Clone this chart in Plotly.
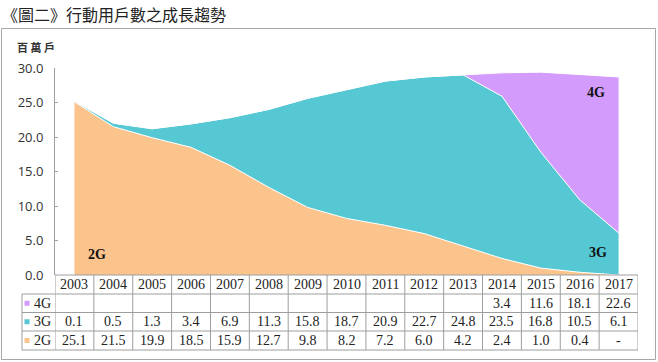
import plotly.graph_objects as go

years = [2003, 2004, 2005, 2006, 2007, 2008, 2009, 2010, 2011, 2012, 2013, 2014, 2015, 2016, 2017]
g4 = [None, None, None, None, None, None, None, None, None, None, None, 3.4, 11.6, 18.1, 22.6]
g3 = [0.1, 0.5, 1.3, 3.4, 6.9, 11.3, 15.8, 18.7, 20.9, 22.7, 24.8, 23.5, 16.8, 10.5, 6.1]
g2 = [25.1, 21.5, 19.9, 18.5, 15.9, 12.7, 9.8, 8.2, 7.2, 6.0, 4.2, 2.4, 1.0, 0.4, None]
series_names = ["4G", "3G", "2G"]
colors = {"2G": "#FBC48D", "3G": "#55C8D3", "4G": "#D29BFC"}
yticks = [0, 5, 10, 15, 20, 25, 30]

W, H = 658, 362
L, R, T, B = 55, 638, 68, 275  # plot area in px
pw, ph = R - L, B - T

def px_x(px):
    return (px - L) / pw

def px_y(py):
    return (B - py) / ph

fig = go.Figure()
for name, vals in [("2G", g2), ("3G", g3), ("4G", g4)]:
    fig.add_trace(go.Scatter(
        x=years, y=[v if v is not None else 0 for v in vals],
        stackgroup="one", mode="lines", name=name,
        line=dict(color="white", width=1),
        fillcolor=colors[name], hoverinfo="skip", showlegend=False))

ann = []
shapes = []
line_col = "#9E9E9E"

# outer border
shapes.append(dict(type="rect", xref="paper", yref="paper",
                   x0=px_x(1.5), x1=px_x(655.5), y0=px_y(28.5), y1=px_y(359.5),
                   line=dict(color="#A6A6A6", width=1), layer="below"))

# table geometry (px)
row_edges = [275, 294, 312.5, 331, 350]
lab_left = 22
shapes.append(dict(type="line", xref="paper", yref="paper",
                   x0=0, x1=1, y0=px_y(row_edges[0]), y1=px_y(row_edges[0]),
                   line=dict(color=line_col, width=1)))
for ry in row_edges[1:]:
    shapes.append(dict(type="line", xref="paper", yref="paper",
                       x0=px_x(lab_left), x1=1, y0=px_y(ry), y1=px_y(ry),
                       line=dict(color=line_col, width=1)))
shapes.append(dict(type="line", xref="paper", yref="paper",
                   x0=px_x(lab_left), x1=px_x(lab_left), y0=px_y(row_edges[1]), y1=px_y(row_edges[-1]),
                   line=dict(color=line_col, width=1)))
for k in range(len(years) + 1):
    xv = years[0] - 0.5 + k
    shapes.append(dict(type="line", xref="x", yref="paper",
                       x0=xv, x1=xv, y0=px_y(row_edges[0]), y1=px_y(row_edges[-1]),
                       line=dict(color=line_col, width=1)))

serif = "Liberation Serif, Times New Roman, serif"
tfont = dict(family=serif, size=14, color="#222")
centers = [(row_edges[i] + row_edges[i + 1]) / 2 for i in range(4)]
for yr in years:
    ann.append(dict(x=yr, y=px_y(centers[0]), xref="x", yref="paper", text=str(yr),
                    xanchor="center", yanchor="middle", showarrow=False, font=tfont))
rows = {"4G": g4, "3G": g3, "2G": g2}
for i, name in enumerate(series_names):
    cy = centers[i + 1]
    shapes.append(dict(type="rect", xref="paper", yref="paper",
                       x0=px_x(24.5), x1=px_x(29.5), y0=px_y(cy + 2.5), y1=px_y(cy - 2.5),
                       fillcolor=colors[name], line=dict(width=0)))
    ann.append(dict(x=px_x(32), y=px_y(cy), xref="paper", yref="paper", text=name,
                    xanchor="left", yanchor="middle", showarrow=False, font=tfont))
    for yr, v in zip(years, rows[name]):
        if v is None:
            txt = "-" if name == "2G" else ""
        else:
            txt = f"{v:.1f}"
        if txt:
            ann.append(dict(x=yr, y=px_y(cy), xref="x", yref="paper", text=txt,
                            xanchor="center", yanchor="middle", showarrow=False, font=tfont))

# area labels
for txt, x, y in [("2G", 2003.58, 3.0), ("3G", 2016.47, 3.3), ("4G", 2016.42, 26.4)]:
    ann.append(dict(x=x, y=y, xref="x", yref="y", text=f"<b>{txt}</b>", showarrow=False,
                    xanchor="center", yanchor="middle",
                    font=dict(family=serif, size=14, color="#111")))

# title and unit
ann.append(dict(x=px_x(0), y=px_y(14), xref="paper", yref="paper", xanchor="left", yanchor="middle",
                text="《圖二》行動用戶數之成長趨勢", showarrow=False,
                font=dict(family="Noto Sans CJK TC", size=16, color="#222")))
ann.append(dict(x=px_x(15), y=px_y(47), xref="paper", yref="paper", xanchor="left", yanchor="middle",
                text="<b>百 萬 戶</b>", showarrow=False,
                font=dict(family="Noto Sans CJK TC", size=11, color="#333")))

fig.update_layout(
    width=W, height=H,
    margin=dict(l=L, r=W - R, t=T, b=H - B, pad=0),
    paper_bgcolor="white", plot_bgcolor="white",
    xaxis=dict(range=[years[0] - 0.5, years[-1] + 0.5], showticklabels=False, showgrid=False,
               zeroline=False, showline=False, ticks=""),
    yaxis=dict(range=[0, 30], tickvals=yticks, ticktext=[f"{v:.1f}" for v in yticks],
               showgrid=False, zeroline=False, showline=True, linecolor="#A0A0A0", linewidth=1,
               ticks="inside", ticklen=3, tickcolor="#A0A0A0", ticklabelstandoff=8,
               tickfont=dict(family="Open Sans, Liberation Sans, sans-serif", size=13, color="#333")),
    shapes=shapes, annotations=ann,
)
fig.write_html("out.html", config={"displayModeBar": False},
               post_script="document.body.style.margin='0';document.body.style.overflow='hidden';")
